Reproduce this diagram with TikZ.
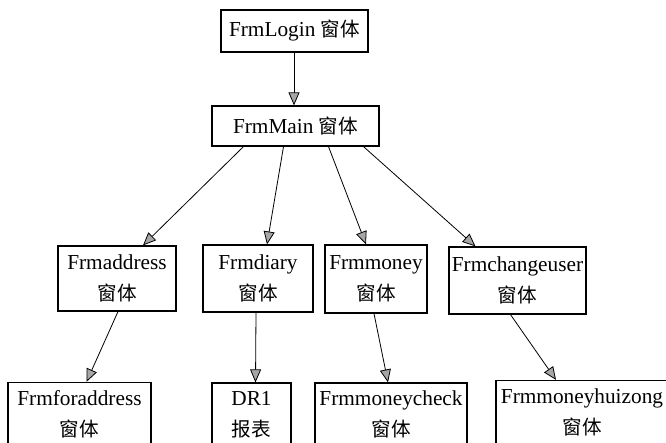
\documentclass[tikz,border=0pt]{standalone}
\usepackage{fontspec}
\setmainfont{Liberation Serif}
\newfontfamily\cjk[Scale=0.92]{Noto Sans CJK SC}
\usetikzlibrary{arrows.meta}

\begin{document}
\begin{tikzpicture}[x=1pt, y=-1pt, every node/.style={draw, line width=1.2pt, align=center, inner sep=1pt, font=\fontsize{21.3}{31}\selectfont}, link/.style={line width=0.8pt, -{Triangle[length=13pt, width=11pt, fill=gray!70]}}]
  \useasboundingbox (0,0) rectangle (666,443);
  % top
  \node[minimum width=147pt, minimum height=42pt] (login) at (294.5,31) {FrmLogin {\cjk 窗体}};
  \node[minimum width=167pt, minimum height=40pt] (main) at (295.5,126) {FrmMain {\cjk 窗体}};
  % middle row
  \node[minimum width=118pt, minimum height=65pt] (address) at (117,278.5) {Frmaddress\\{\cjk 窗体}};
  \node[minimum width=110pt, minimum height=67pt] (diary) at (258,278.5) {Frmdiary\\{\cjk 窗体}};
  \node[minimum width=102pt, minimum height=68pt] (money) at (376,279) {Frmmoney\\{\cjk 窗体}};
  \node[minimum width=137pt, minimum height=67pt] (changeuser) at (517.5,280.5) {Frmchangeuser\\{\cjk 窗体}};
  % bottom row
  \node[minimum width=143pt, minimum height=63pt] (foraddress) at (79.5,414) {Frmforaddress\\{\cjk 窗体}};
  \node[minimum width=79pt, minimum height=63pt] (dr1) at (251.5,414.5) {DR1\\{\cjk 报表}};
  \node[minimum width=152pt, minimum height=63pt] (moneycheck) at (391,414.5) {Frmmoneycheck\\{\cjk 窗体}};
  \node[minimum width=172pt, minimum height=63pt] (moneyhuizong) at (582,412) {Frmmoneyhuizong\\{\cjk 窗体}};

  \draw[link] ([xshift=-0.5pt]login.south) -- ([xshift=-1.5pt]main.north);
  \draw[link] ([xshift=-52pt]main.south) -- ([xshift=26pt]address.north);
  \draw[link] ([xshift=-12pt]main.south) -- ([xshift=9pt]diary.north);
  \draw[link] ([xshift=33pt]main.south) -- ([xshift=-10pt]money.north);
  \draw[link] ([xshift=68pt]main.south) -- ([xshift=-42pt]changeuser.north);
  \draw[link] ([xshift=1pt]address.south) -- ([xshift=7pt]foraddress.north);
  \draw[link] ([xshift=-2pt]diary.south) -- ([xshift=4pt]dr1.north);
  \draw[link] ([xshift=-2pt]money.south) -- ([xshift=-3pt]moneycheck.north);
  \draw[link] ([xshift=-7pt]changeuser.south) -- ([xshift=-26pt]moneyhuizong.north);
\end{tikzpicture}
\end{document}
